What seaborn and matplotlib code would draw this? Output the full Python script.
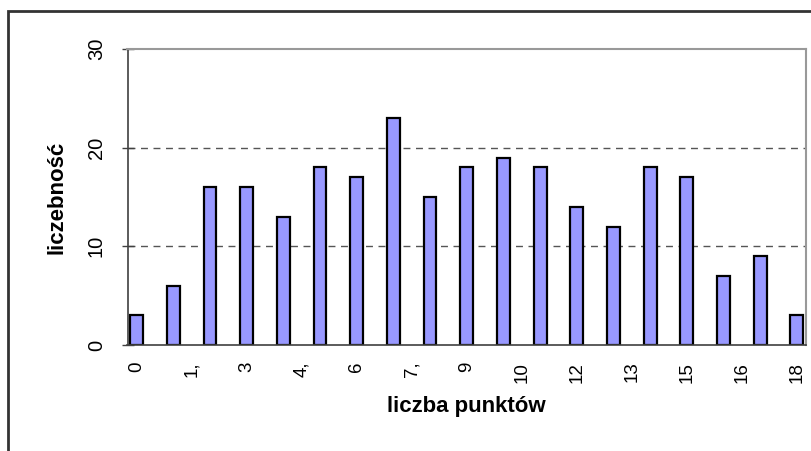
import numpy as np
import pandas as pd
import matplotlib
matplotlib.use("Agg")
import matplotlib.pyplot as plt
import seaborn as sns
from matplotlib.patches import Rectangle

# Data
punkty = [0, 1, 2, 3, 4, 5, 6, 7, 8, 9, 10, 11, 12, 13, 14, 15, 16, 17, 18]
liczebnosc = [3, 6, 16, 16, 13, 18, 17, 23, 15, 18, 19, 18, 14, 12, 18, 17, 7, 9, 3]
tick_pos = [0, 1.5, 3, 4.5, 6, 7.5, 9, 10.5, 12, 13.5, 15, 16.5, 18]
tick_labels = ["0", "1,", "3", "4,", "6", "7,", "9", "10", "12", "13", "15", "16", "18"]
y_ticks = [0, 10, 20, 30]

sns.set_style("white")
plt.rcParams['font.family'] = ['Liberation Sans', 'DejaVu Sans']
plt.rcParams['text.color'] = 'black'
plt.rcParams['axes.labelcolor'] = 'black'
plt.rcParams['xtick.color'] = 'black'
plt.rcParams['ytick.color'] = 'black'

fig = plt.figure(figsize=(8.11, 4.51), dpi=100)
ax = fig.add_axes([127.5 / 811, 1 - 345 / 451, (806 - 127.5) / 811, (345 - 49) / 451])

df = pd.DataFrame({"x": punkty, "y": liczebnosc})
sns.barplot(data=df, x="x", y="y", native_scale=True, width=0.35,
            color="#9999FF", saturation=1, edgecolor="black", linewidth=1.6, ax=ax)

ax.set_xlim(-0.25, 18.25)
ax.set_ylim(0, 30)

# Grid lines
for v in [10, 20]:
    ax.axhline(v, color="#555555", linestyle=(0, (5, 4)), linewidth=1.0, zorder=0)

# Ticks
ax.set_yticks(y_ticks)
ax.set_yticklabels([str(v) for v in y_ticks], rotation=90, va="center", fontsize=14.5)
ax.set_xticks(tick_pos)
ax.set_xticklabels(tick_labels, rotation=90, fontsize=13.5)
ax.set_xticks(np.arange(-0.25, 18.26, 0.5), minor=True)
ax.tick_params(axis="x", which="major", length=0, pad=12)
ax.tick_params(axis="x", which="minor", length=5, width=1, color="#404040", direction="out")
ax.tick_params(axis="y", which="major", length=9, width=1, color="#404040", direction="inout",
               pad=11, labelcolor="black")
ax.tick_params(axis="x", labelcolor="black")
ax.tick_params(bottom=True, left=True)

for side in ["left", "bottom"]:
    ax.spines[side].set_color("#404040")
    ax.spines[side].set_linewidth(1.2)
for side in ["top", "right"]:
    ax.spines[side].set_visible(True)
    ax.spines[side].set_color("#999999")
    ax.spines[side].set_linewidth(1.5)

ax.set_xlabel("liczba punktów", fontsize=16, fontweight="bold", labelpad=10, color="black")
ax.set_ylabel("liczebność", fontsize=16, fontweight="bold", labelpad=14, color="black")

# Outer chart frame
fig.patches.append(Rectangle((8 / 811, -0.1), 1.1, 1 - 11 / 451 + 0.1,
                             transform=fig.transFigure, fill=False,
                             edgecolor="#333333", linewidth=2, zorder=10))

fig.savefig("out.png", dpi=100)
